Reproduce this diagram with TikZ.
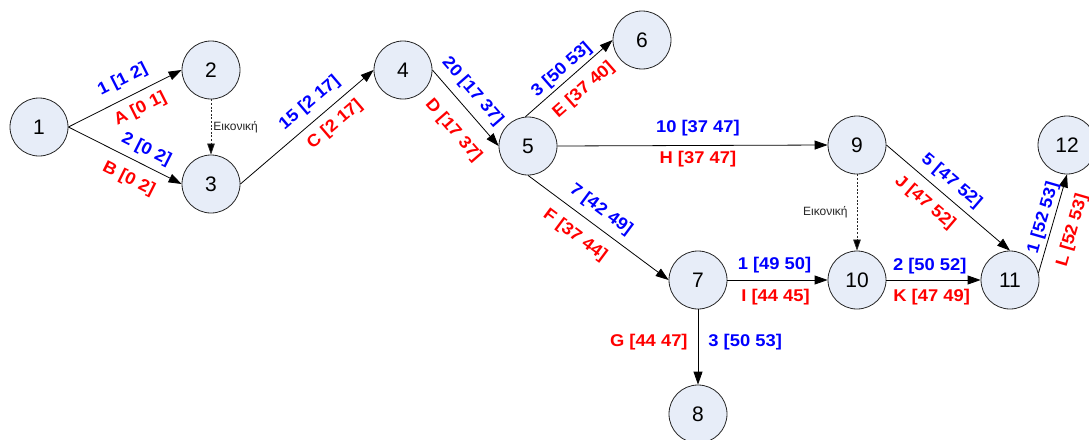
\documentclass[tikz,border=0pt]{standalone}
\usepackage{fontspec}
\setmainfont{Liberation Sans}
\newfontfamily\lblfont[FakeStretch=1.08]{Liberation Sans}
\usetikzlibrary{arrows.meta}
\definecolor{nodefill}{RGB}{231,237,248}
\definecolor{edgeblue}{RGB}{0,0,255}
\definecolor{edgered}{RGB}{255,0,0}
\begin{document}
\begin{tikzpicture}[x=1pt,y=-1pt,
  ev/.style={circle, draw=black!85, line width=0.8pt, fill=nodefill, minimum size=58pt, inner sep=0pt, font=\fontsize{21}{21}\selectfont},
  arr/.style={line width=0.8pt, -{Triangle[length=13pt,width=9pt]}},
  dsh/.style={line width=0.7pt, draw=black!85, dash pattern=on 2pt off 1.6pt, -{Triangle[length=11pt,width=7.5pt,fill=black]}},
  lbl/.style={font=\lblfont\bfseries\fontsize{17}{18}\selectfont},
  bl/.style={lbl, text=edgeblue, sloped, anchor=south, inner sep=#1},
  bl/.default=7pt,
  rd/.style={lbl, text=edgered, sloped, anchor=north, inner sep=#1},
  rd/.default=10.5pt,
  bs/.style={lbl, text=edgeblue, inner sep=0pt},
  rs/.style={lbl, text=edgered, inner sep=0pt},
  gr/.style={text=black!85, font=\fontsize{12}{12}\selectfont, inner sep=0pt}
]
\useasboundingbox (0,0) rectangle (1089,439);
\fill[white] (0,0) rectangle (1089,439);

\node[ev] (n1) at (39,127) {1};
\node[ev] (n2) at (211,70) {2};
\node[ev] (n3) at (211,184) {3};
\node[ev] (n4) at (403,70) {4};
\node[ev] (n5) at (528,146) {5};
\node[ev] (n6) at (642,40) {6};
\node[ev] (n7) at (698,280) {7};
\node[ev] (n8) at (698,414) {8};
\node[ev] (n9) at (857,145) {9};
\node[ev] (n10) at (857,280) {10};
\node[ev] (n11) at (1010,280) {11};
\node[ev] (n12) at (1067,145) {12};

\draw[arr] (n1.east) -- node[bl=9.3pt,pos=.55]{1 [1 2]} node[rd=8.2pt,pos=.57]{A [0 1]} (n2.west);
\draw[arr] (n1.east) -- node[bl=6.3pt,pos=.63]{2 [0 2]} node[rd=11.2pt,pos=.61]{B [0 2]} (n3.west);
\draw[dsh] (n2.south) -- node[gr,anchor=west,xshift=2pt,pos=.5]{Εικονική} (n3.north);
\draw[arr] (n3.east) -- node[bl=7.9pt,pos=.60]{15 [2 17]} node[rd=8.2pt,pos=.63]{C [2 17]} (n4.west);
\draw[arr] (n4.east) -- node[bl=8pt,pos=.42]{20 [17 37]} node[rd=15.7pt,pos=.59]{D [17 37]} (n5.west);
\draw[arr] (n5.95) -- node[bl=2.8pt,pos=.5]{3 [50 53]} node[rd=10.1pt,pos=.53]{E [37 40]} (n6.west);
\draw[arr] (n5.east) -- node[bs,pos=.52,yshift=17pt]{10 [37 47]} node[rs,pos=.52,yshift=-14pt]{H [37 47]} (n9.west);
\draw[arr] (n5.south) -- node[bl=7.8pt,pos=.45]{7 [42 49]} node[rd=12pt,pos=.42]{F [37 44]} (n7.west);
\draw[arr] (n7.east) -- node[bs,pos=.47,yshift=15pt]{1 [49 50]} node[rs,pos=.48,yshift=-17pt]{I [44 45]} (n10.west);
\draw[arr] (n7.south) -- node[rs,anchor=east,xshift=-10pt,pos=.43]{G [44 47]} node[bs,anchor=west,xshift=10pt,pos=.43]{3 [50 53]} (n8.north);
\draw[dsh] (n9.south) -- node[gr,anchor=east,xshift=-9pt,pos=.5]{Εικονική} (n10.north);
\draw[arr] (n9.east) -- node[bl=6.3pt,pos=.45]{5 [47 52]} node[rd=10.4pt,pos=.41]{J [47 52]} (n11.north);
\draw[arr] (n10.east) -- node[bs,pos=.46,yshift=14pt]{2 [50 52]} node[rs,pos=.48,yshift=-17pt]{K [47 49]} (n11.west);
\draw[arr] (n11.14) -- node[bl=2.3pt,pos=.53]{1 [52 53]} node[rd=12.5pt,pos=.49]{L [52 53]} (n12.south);
\end{tikzpicture}
\end{document}
